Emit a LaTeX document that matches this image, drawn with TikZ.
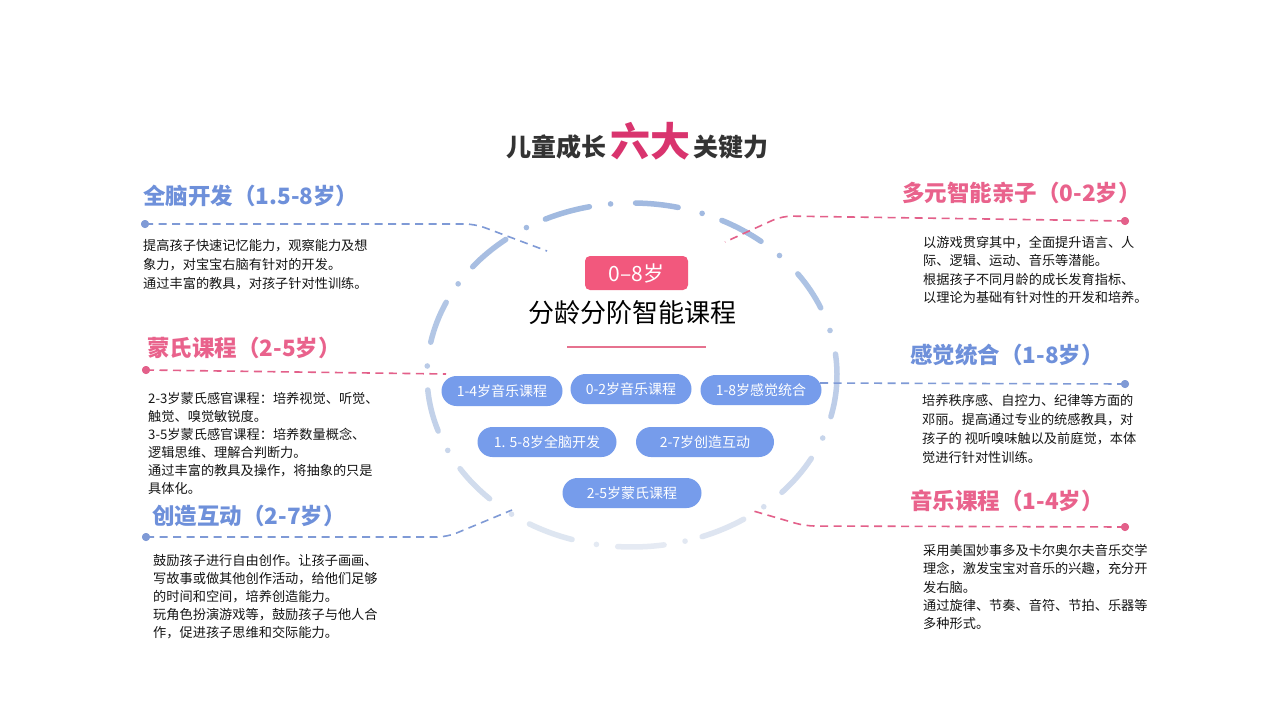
\documentclass[tikz,border=0pt]{standalone}
\usepackage{fontspec}
\newfontfamily\cjk{Noto Sans CJK SC}
\usetikzlibrary{calc}
\definecolor{hblue}{HTML}{6E90DA}
\definecolor{hpink}{HTML}{E9628C}
\definecolor{lblue}{HTML}{7F9AD6}
\definecolor{lpink}{HTML}{E3608A}
\definecolor{titlegray}{HTML}{333333}
\definecolor{titlepink}{HTML}{D9346E}
\definecolor{boxpink}{HTML}{F2587D}
\definecolor{pillblue}{HTML}{769CEB}
\definecolor{ringtop}{HTML}{A0B9E0}
\definecolor{ringbot}{HTML}{E6EBF3}
\definecolor{bodytxt}{HTML}{151515}
\definecolor{underpink}{HTML}{E6728F}
\begin{document}
\begin{tikzpicture}[x=1pt,y=-1pt,
  heading/.style={font=\cjk\bfseries\fontsize{22.5}{23}\selectfont, anchor=west, inner sep=0pt},
  body/.style={font=\cjk\fontsize{13.2}{#1}\selectfont, align=left, anchor=north west, inner sep=0pt, text=bodytxt},
  enddot/.style={circle, inner sep=0pt, minimum size=8pt, fill=#1},
  dashline/.style={draw=#1, line width=1.6pt, dash pattern=on 8pt off 5.5pt, rounded corners=10pt},
  pill/.style={fill=pillblue, rounded corners=15pt, minimum height=30pt, minimum width=#1, text=white, font=\cjk\fontsize{14}{14}\selectfont, inner sep=0pt},
  ringdash/.style={line width=5.5pt, line cap=round},
]
\fill[white] (0,0) rectangle (1280,720);
\useasboundingbox (0,0) rectangle (1280,720);

% ring
\foreach \a/\b in {-14/7, 23/36, 51/64, 77/89, 102/115, 128/141, 155/169, 185/199, 213/226, 240/253, 266/279, 290/303, 317/331}{
  \pgfmathsetmacro\m{(\a+\b)/2}
  \pgfmathtruncatemacro\p{100*pow((1+sin(\m))/2+0.001,0.7)}
  \pgfmathsetmacro\sx{632+205*cos(\a)}
  \pgfmathsetmacro\sy{375-172*sin(\a)}
  \draw[ringdash, draw=ringtop!\p!ringbot] (\sx,\sy) arc[start angle=-\a, end angle=-\b, x radius=205, y radius=172];
}
\foreach \a in {15,44,70,96,121,148,177,206,234,260,285,310,338.5}{
  \pgfmathtruncatemacro\p{100*pow((1+sin(\a))/2+0.001,0.7)}
  \pgfmathsetmacro\sx{632+205*cos(\a)}
  \pgfmathsetmacro\sy{375-172*sin(\a)}
  \fill[ringtop!\p!ringbot] (\sx,\sy) circle (2.8pt);
}

% title
\node[anchor=base, inner sep=0pt, text=titlegray, font=\cjk\bfseries\fontsize{25}{25}\selectfont] (title) at (637,156)
  {儿童成长\hspace{4pt}{\fontsize{40}{40}\selectfont\color{titlepink}六大}\hspace{3pt}关键力};

% connector points
\node[enddot=lblue] (d1) at (145,224) {};
\coordinate (b1) at (475,224);
\coordinate (e1) at (547,251);
\node[enddot=lpink] (d2) at (146,370) {};
\coordinate (e2) at (446,374);
\node[enddot=lblue] (d3) at (146,537) {};
\coordinate (b3) at (447,537);
\coordinate (e3) at (512,510);
\node[enddot=lpink] (d4) at (1125,221) {};
\coordinate (b4) at (782,216);
\coordinate (e4) at (725,242);
\node[enddot=lblue] (d5) at (1125,384) {};
\coordinate (e5) at (820,383);
\node[enddot=lpink] (d6) at (1125,527) {};
\coordinate (b6) at (805,526);
\coordinate (e6) at (750,510);

\draw[dashline=lblue] (d1.center) -- (b1) -- (e1);
\draw[dashline=lpink] (d2.center) -- (e2);
\draw[dashline=lblue] (d3.center) -- (b3) -- (e3);
\draw[dashline=lpink] (d4.center) -- (b4) -- (e4);
\draw[dashline=lblue] (d5.center) -- (e5);
\draw[dashline=lpink] (d6.center) -- (b6) -- (e6);
\foreach \n/\c in {d1/lblue,d2/lpink,d3/lblue,d4/lpink,d5/lblue,d6/lpink}{\fill[\c] (\n) circle (4pt);}

% centre
\node[fill=boxpink, rounded corners=5pt, minimum width=103pt, minimum height=34pt, inner sep=0pt, text=white, font=\cjk\fontsize{21}{21}\selectfont] (age) at (636.5,273) {0–8岁};
\node[inner sep=0pt, font=\cjk\fontsize{26}{26}\selectfont, text=black] (main) at (632,313) {分龄分阶智能课程};
\coordinate (u1) at (567,347);
\coordinate (u2) at (706,347);
\draw[underpink, line width=2.5pt] (u1) -- (u2);

\node[pill=121pt] (p1) at (502,391) {1-4岁音乐课程};
\node[pill=121pt] (p2) at (631,389) {0-2岁音乐课程};
\node[pill=121pt] (p3) at (761,390) {1-8岁感觉统合};
\node[pill=139pt] (p4) at (547,442) {1. 5-8岁全脑开发};
\node[pill=138pt] (p5) at (705,442) {2-7岁创造互动};
\node[pill=139pt] (p6) at (632,493) {2-5岁蒙氏课程};

% headings
\node[heading, text=hblue] (h1) at (143,196) {全脑开发（1.5-8岁）};
\node[heading, text=hpink] (h2) at (147,348) {蒙氏课程（2-5岁）};
\node[heading, text=hblue] (h3) at (152,516) {创造互动（2-7岁）};
\node[heading, text=hpink] (h4) at (902,193) {多元智能亲子（0-2岁）};
\node[heading, text=hblue] (h5) at (910,355) {感觉统合（1-8岁）};
\node[heading, text=hpink] (h6) at (910,501) {音乐课程（1-4岁）};

% bodies
\node[body=19] (t1) at (143,239) {提高孩子快速记忆能力，观察能力及想\\象力，对宝宝右脑有针对的开发。\\通过丰富的教具，对孩子针对性训练。};
\node[body=18] (t2) at (148,392) {2-3岁蒙氏感官课程：培养视觉、听觉、\\触觉、嗅觉敏锐度。\\3-5岁蒙氏感官课程：培养数量概念、\\逻辑思维、理解合判断力。\\通过丰富的教具及操作，将抽象的只是\\具体化。};
\node[body=18] (t3) at (153,554) {鼓励孩子进行自由创作。让孩子画画、\\写故事或做其他创作活动，给他们足够\\的时间和空间，培养创造能力。\\玩角色扮演游戏等，鼓励孩子与他人合\\作，促进孩子思维和交际能力。};
\node[body=18.3] (t4) at (923,236) {以游戏贯穿其中，全面提升语言、人\\际、逻辑、运动、音乐等潜能。\\根据孩子不同月龄的成长发育指标、\\以理论为基础有针对性的开发和培养。};
\node[body=19] (t5) at (922,394) {培养秩序感、自控力、纪律等方面的\\邓丽。提高通过专业的统感教具，对\\孩子的 视听嗅味触以及前庭觉，本体\\觉进行针对性训练。};
\node[body=18.3] (t6) at (923,544) {采用美国妙事多及卡尔奥尔夫音乐交学\\理念，激发宝宝对音乐的兴趣，充分开\\发右脑。\\通过旋律、节奏、音符、节拍、乐器等\\多种形式。};
\end{tikzpicture}
\end{document}
